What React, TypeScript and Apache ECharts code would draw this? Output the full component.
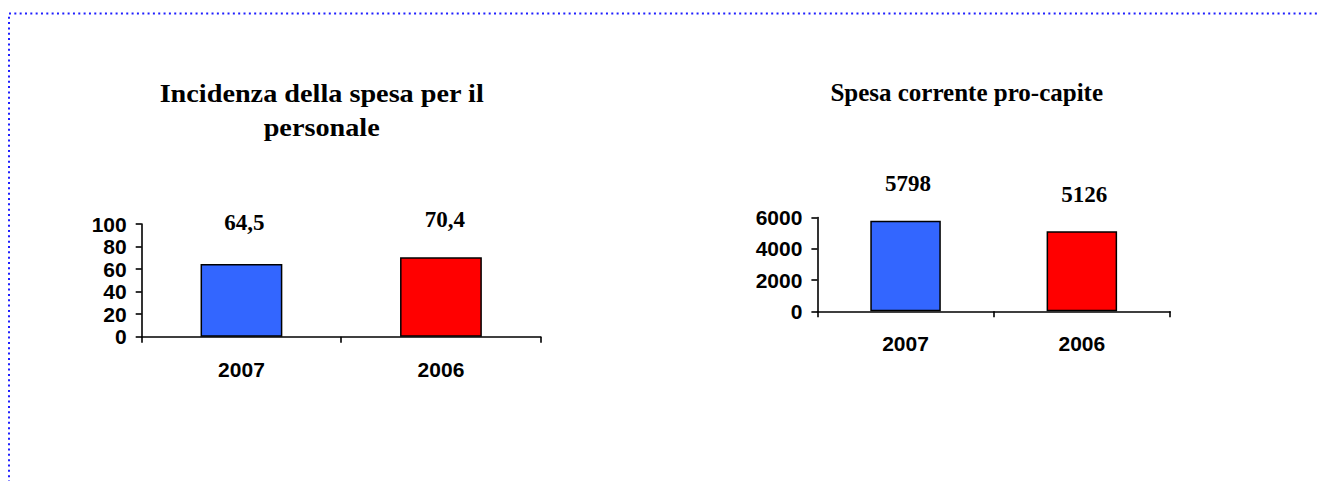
import React, { useEffect, useRef } from "react";
import * as echarts from "echarts";

const categories = ["2007", "2006"];
const incidenzaValues = [64.5, 70.4];
const spesaValues = [5798, 5126];
const incidenzaTicks = [0, 20, 40, 60, 80, 100];
const spesaTicks = [0, 2000, 4000, 6000];
const titleIncidenza = "Incidenza della spesa per il\npersonale";
const titleSpesa = "Spesa corrente pro-capite";
const barColors = ["#3366ff", "#ff0000"];

// label placement tweaks (style only)
const incidenzaLabelDist = [30, 26];
const incidenzaLabelDx = [3, 4];
const spesaLabelDist = [26, 25];
const spesaLabelDx = [2.5, 2.5];

const SANS = '"Liberation Sans", Arial, sans-serif';
const SERIF = '"Liberation Serif", "Times New Roman", serif';

function tickConf(ticks: number[]) {
  return {
    min: ticks[0],
    max: ticks[ticks.length - 1],
    interval: ticks[1] - ticks[0],
  };
}

export default function App() {
  const ref = useRef<HTMLDivElement>(null);
  useEffect(() => {
    document.body.style.margin = "0";
    const chart = echarts.init(ref.current!, null, { renderer: "svg" });
    const axisLine = { show: true, onZero: false, lineStyle: { color: "#000", width: 1.6 } };
    const axisTick = { show: true, inside: false, length: 6, lineStyle: { color: "#000", width: 1.6 } };
    const xAxisCommon = {
      type: "category",
      data: categories,
      axisLine,
      axisTick: { ...axisTick, alignWithLabel: false },
      axisLabel: { color: "#000", fontFamily: SANS, fontWeight: "bold", fontSize: 21, margin: 22 },
      splitLine: { show: false },
    };
    const yAxisCommon = {
      type: "value",
      axisLine,
      axisTick,
      axisLabel: {
        color: "#000",
        fontFamily: SANS,
        fontWeight: "bold",
        fontSize: 21,
        margin: 15,
        formatter: (v: number) => String(v),
      },
      splitLine: { show: false },
    };
    const barLabel = {
      show: true,
      position: "top",
      color: "#000",
      fontFamily: SERIF,
      fontWeight: "bold",
      fontSize: 23,
    };
    chart.setOption({
      animation: false,
      backgroundColor: "#fff",
      grid: [
        { left: 141.7, top: 224, width: 399, height: 112.7 },
        { left: 817.4, top: 217.5, width: 352.6, height: 93.8 },
      ],
      xAxis: [
        { ...xAxisCommon, gridIndex: 0 },
        { ...xAxisCommon, gridIndex: 1 },
      ],
      yAxis: [
        { ...yAxisCommon, gridIndex: 0, ...tickConf(incidenzaTicks) },
        { ...yAxisCommon, gridIndex: 1, ...tickConf(spesaTicks) },
      ],
      series: [
        {
          type: "bar",
          xAxisIndex: 0,
          yAxisIndex: 0,
          barWidth: "41%",
          data: incidenzaValues.map((v, i) => ({
            value: v,
            itemStyle: { color: barColors[i], borderColor: "#000", borderWidth: 1.5 },
            label: { distance: incidenzaLabelDist[i], offset: [incidenzaLabelDx[i], 0] },
          })),
          label: {
            ...barLabel,
            formatter: (p: any) => String(p.value).replace(".", ","),
          },
        },
        {
          type: "bar",
          xAxisIndex: 1,
          yAxisIndex: 1,
          barWidth: "40%",
          data: spesaValues.map((v, i) => ({
            value: v,
            itemStyle: { color: barColors[i], borderColor: "#000", borderWidth: 1.5 },
            label: { distance: spesaLabelDist[i], offset: [spesaLabelDx[i], 0] },
          })),
          label: { ...barLabel, formatter: (p: any) => String(p.value) },
        },
      ],
      graphic: [
        {
          type: "rect",
          shape: { x: 9, y: 13.5, width: 1400, height: 700 },
          style: { fill: "none", stroke: "#1f1fff", lineWidth: 2, lineDash: [2, 3.33] },
          silent: true,
        },
        {
          type: "text",
          x: 321.7,
          y: 110.5,
          scaleX: 1.13,
          style: {
            text: titleIncidenza,
            align: "center",
            verticalAlign: "middle",
            lineHeight: 34.5,
            fontFamily: SERIF,
            fontWeight: "bold",
            fontSize: 25,
            fill: "#000",
          },
        },
        {
          type: "text",
          x: 966.7,
          y: 92.6,
          style: {
            text: titleSpesa,
            align: "center",
            verticalAlign: "middle",
            fontFamily: SERIF,
            fontWeight: "bold",
            fontSize: 25,
            fill: "#000",
          },
        },
      ],
    });
    return () => chart.dispose();
  }, []);
  return <div ref={ref} style={{ width: 1318, height: 481 }} />;
}
